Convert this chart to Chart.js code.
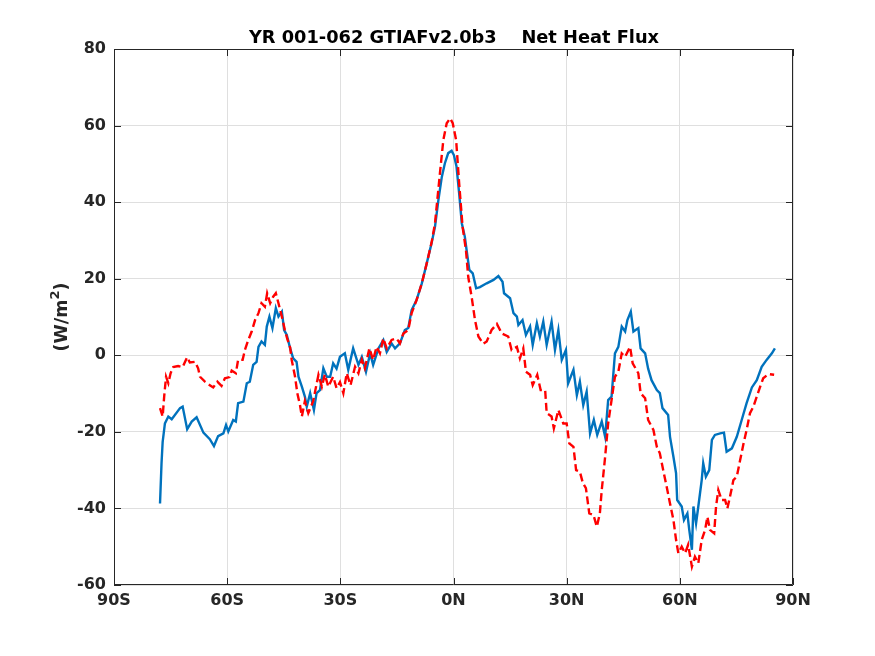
<!DOCTYPE html>
<html>
<head>
<meta charset="utf-8">
<script src="https://cdn.jsdelivr.net/npm/chart.js@4/dist/chart.umd.min.js"></script>
<style>
  body { margin: 0; background: #fff; }
  #wrap { width: 875px; height: 656px; }
</style>
</head>
<body>
<div id="wrap"><canvas id="fluxChart" width="875" height="656"></canvas></div>
<script>
const titleText = "YR 001-062 GTIAFv2.0b3    Net Heat Flux";

const xTickValues = [-90, -60, -30, 0, 30, 60, 90];
const xTickLabels = ["90S", "60S", "30S", "0N", "30N", "60N", "90N"];
const yTickValues = [-60, -40, -20, 0, 20, 40, 60, 80];

// solid blue curve
const blueLat = [
  -77.8, -77.4, -77.1, -76.5, -75.6, -74.7, -72.5, -71.8, -70.6, -69.4,
  -68.1, -66.3, -64.6, -63.5, -62.4, -61.0, -60.3, -59.7, -58.4, -57.7,
  -57.1, -55.7, -54.8, -54.0, -53.1, -52.2, -51.7, -50.9, -50.0, -49.5,
  -48.8, -48.0, -47.1, -46.4, -45.5, -44.9, -44.2, -43.3, -42.5, -41.6,
  -41.1, -40.2, -39.4, -38.9, -38.0, -37.0, -36.3, -35.4, -34.5, -33.6,
  -32.7, -31.9, -31.0, -30.1, -28.8, -27.9, -26.6, -25.2, -24.3, -23.2,
  -22.1, -21.3, -19.9, -18.6, -17.7, -16.4, -15.5, -14.2, -12.9, -12.0,
  -11.1, -9.8, -8.4, -7.1, -5.8, -4.9, -4.0, -3.1, -2.3, -1.4,
  -0.5, 0.1, 0.8, 1.5, 2.2, 3.0, 3.7, 4.2, 5.1, 6.0,
  7.0, 8.8, 10.6, 11.9, 13.0, 13.4, 15.0, 15.9, 16.8, 17.2,
  18.3, 19.2, 20.3, 21.0, 22.1, 22.9, 23.8, 24.7, 26.0, 26.9,
  27.8, 28.7, 29.8, 30.4, 31.8, 32.7, 33.5, 34.4, 35.3, 36.2,
  37.2, 38.1, 39.3, 40.2, 41.0, 41.9, 42.8, 43.7, 44.6, 45.5,
  46.1, 47.0, 47.7, 49.0, 49.6, 50.8, 51.6, 52.5, 53.9, 54.7,
  55.4, 56.9, 57.4, 58.3, 59.0, 59.3, 60.5, 61.1, 62.0, 62.5,
  63.2, 63.6, 64.3, 64.9, 65.8, 66.2, 66.9, 67.8, 68.5, 69.3,
  70.7, 71.7, 72.4, 73.8, 75.1, 76.4, 77.7, 79.1, 80.4, 81.7,
  83.0, 84.4, 85.2
];
const blueFlux = [
  -38.7, -28.2, -22.6, -17.8, -16.0, -16.7, -13.8, -13.4, -19.3, -17.3,
  -16.2, -20.2, -21.9, -23.7, -21.1, -20.4, -18.2, -19.9, -16.9, -17.3,
  -12.5, -12.1, -7.3, -6.9, -2.5, -1.7, 2.2, 3.6, 2.7, 7.5,
  10.1, 7.1, 12.3, 10.1, 11.4, 6.6, 5.3, 1.8, -0.8, -1.7,
  -5.6, -8.2, -10.8, -13.4, -9.9, -14.3, -9.9, -9.1, -3.4, -5.6,
  -5.6, -2.1, -3.5, -0.4, 0.5, -3.8, 1.8, -2.5, -0.4, -4.3,
  0.5, -2.5, 1.8, 4.0, 0.9, 3.1, 1.8, 3.1, 6.6, 7.1,
  11.8, 14.4, 18.8, 24.0, 29.3, 33.6, 40.6, 46.6, 50.1, 52.8,
  53.4, 52.3, 49.3, 42.3, 34.5, 31.0, 25.8, 22.3, 21.4, 17.5,
  17.8, 18.8, 19.7, 20.7, 19.2, 16.2, 14.9, 11.0, 10.1, 7.9,
  9.2, 5.3, 7.5, 2.7, 8.4, 4.9, 8.8, 2.7, 8.8, 1.4,
  6.6, -1.2, 1.4, -7.3, -3.8, -10.4, -6.9, -13.0, -9.5, -20.4,
  -16.9, -20.8, -17.3, -21.3, -11.7, -10.8, 0.5, 2.2, 7.5, 6.2,
  9.2, 11.4, 6.2, 7.1, 1.8, 0.5, -3.5, -6.5, -9.1, -9.9,
  -13.8, -15.6, -21.3, -26.5, -30.8, -37.8, -39.5, -43.0, -41.3, -45.6,
  -50.8, -39.5, -43.9, -39.5, -32.6, -28.2, -31.7, -30.0, -22.1, -20.8,
  -20.4, -20.2, -25.2, -24.3, -21.3, -16.9, -12.5, -8.4, -6.5, -3.0,
  -1.2, 0.5, 1.8
];

// dashed red curve
const redLat = [
  -77.8, -77.1, -76.7, -76.2, -75.6, -75.0, -74.3, -73.0, -71.8, -70.6,
  -69.9, -68.5, -67.7, -67.2, -65.9, -64.6, -63.7, -62.6, -61.5, -60.6,
  -59.4, -58.8, -57.7, -57.1, -55.9, -55.3, -54.4, -53.5, -52.6, -51.7,
  -50.9, -50.0, -49.4, -48.6, -47.8, -47.1, -46.4, -45.5, -44.7, -44.1,
  -43.3, -42.9, -42.0, -41.4, -40.7, -40.2, -39.4, -38.5, -37.2, -36.3,
  -35.8, -34.9, -34.1, -33.2, -31.9, -31.0, -30.1, -29.2, -28.3, -27.3,
  -26.1, -25.2, -24.3, -23.5, -22.3, -21.3, -20.4, -19.5, -18.6, -17.7,
  -16.4, -15.1, -14.2, -13.3, -12.0, -11.1, -9.8, -8.4, -7.1, -5.8,
  -4.9, -3.6, -2.7, -1.8, -0.9, -0.2, 0.7, 1.5, 2.4, 3.3,
  3.9, 4.8, 5.7, 6.6, 7.9, 8.8, 10.1, 11.5, 12.8, 14.5,
  15.4, 16.8, 17.6, 18.5, 19.2, 20.3, 21.0, 22.2, 23.1, 24.3,
  24.7, 26.0, 26.6, 27.8, 29.1, 30.0, 30.7, 31.8, 32.5, 33.5,
  34.3, 35.1, 36.0, 37.1, 38.0, 38.8, 39.3, 40.2, 41.0, 41.9,
  42.8, 43.7, 44.6, 45.5, 46.8, 47.5, 49.0, 49.6, 50.8, 51.6,
  53.0, 53.9, 54.7, 55.6, 56.5, 57.4, 58.3, 59.0, 59.6, 60.5,
  61.4, 62.2, 63.2, 64.0, 64.9, 65.8, 66.7, 67.3, 68.0, 69.1,
  69.6, 70.2, 71.1, 72.0, 72.6, 73.5, 74.2, 75.1, 76.0, 76.9,
  77.7, 78.6, 79.5, 80.4, 81.3, 82.1, 83.5, 85.0
];
const redFlux = [
  -13.8, -16.0, -10.8, -5.6, -7.3, -4.7, -3.1, -2.8, -3.1, -0.5,
  -1.9, -1.7, -3.4, -5.6, -6.9, -7.8, -8.4, -6.9, -8.0, -6.0,
  -5.7, -4.0, -4.7, -1.2, -1.2, 1.4, 4.0, 6.2, 9.2, 11.0,
  13.6, 12.7, 16.2, 13.6, 15.3, 16.2, 13.6, 10.1, 6.6, 4.4,
  2.0, -1.2, -5.6, -9.9, -13.0, -16.0, -12.0, -15.1, -12.0, -7.5,
  -5.1, -8.2, -5.0, -8.2, -5.6, -8.6, -7.0, -9.9, -4.7, -7.8,
  -3.0, -4.7, -1.2, -3.4, 1.8, -1.2, 2.2, 0.5, 4.4, 1.8,
  4.0, 4.4, 3.1, 5.7, 6.6, 11.0, 14.4, 18.8, 24.0, 29.5,
  34.5, 47.5, 56.2, 60.6, 61.9, 60.6, 56.2, 44.9, 33.6, 27.5,
  20.5, 15.3, 9.2, 4.9, 3.0, 3.6, 6.6, 8.2, 5.7, 4.9,
  1.4, 2.2, -0.8, 1.8, -4.3, -5.1, -7.8, -5.1, -9.1, -9.1,
  -15.1, -16.0, -19.1, -14.3, -17.8, -17.8, -23.0, -23.9, -30.0, -30.4,
  -33.4, -34.7, -41.3, -41.7, -44.8, -41.3, -35.2, -26.5, -17.8, -11.7,
  -5.6, -4.3, 0.5, -0.4, 2.2, -2.1, -4.7, -9.9, -11.2, -16.9,
  -19.5, -23.9, -25.6, -30.0, -34.3, -38.7, -43.0, -48.2, -51.7, -50.0,
  -51.7, -49.5, -55.2, -52.6, -54.3, -48.2, -45.6, -42.2, -45.6, -46.5,
  -39.5, -35.2, -37.8, -37.8, -40.0, -36.0, -32.6, -31.7, -27.3, -23.0,
  -19.5, -15.1, -13.4, -10.8, -8.2, -6.0, -4.9, -5.1
];

function toPoints(lat, vals) {
  return lat.map(function (x, i) { return { x: x, y: vals[i] }; });
}

const axisColor = "#262626";
const fontFamily = "'DejaVu Sans', sans-serif";

// title, y label, box and inward ticks like the original figure
const framePlugin = {
  id: "frame",
  afterDraw: function (chart) {
    let ctx = chart.ctx;
    let area = chart.chartArea;
    let xs = chart.scales.x;
    let ys = chart.scales.y;
    ctx.save();
    ctx.strokeStyle = axisColor;
    ctx.lineWidth = 1;
    ctx.beginPath();
    ctx.rect(area.left + 0.5, area.top + 0.5, area.right - area.left - 1, area.bottom - area.top - 1);
    ctx.stroke();

    let tl = 7;
    ctx.beginPath();
    xTickValues.forEach(function (v) {
      let px = Math.round(xs.getPixelForValue(v)) + 0.5;
      ctx.moveTo(px, area.bottom);
      ctx.lineTo(px, area.bottom - tl);
      ctx.moveTo(px, area.top);
      ctx.lineTo(px, area.top + tl);
    });
    yTickValues.forEach(function (v) {
      let py = Math.round(ys.getPixelForValue(v)) + 0.5;
      ctx.moveTo(area.left, py);
      ctx.lineTo(area.left + tl, py);
      ctx.moveTo(area.right, py);
      ctx.lineTo(area.right - tl, py);
    });
    ctx.stroke();

    ctx.fillStyle = "#000";
    ctx.font = "bold 17.8px " + fontFamily;
    ctx.textAlign = "center";
    ctx.textBaseline = "alphabetic";
    ctx.fillText(titleText, (area.left + area.right) / 2 + 0.5, 43);

    // y axis label with a raised 2
    ctx.translate(66.5, (area.top + area.bottom) / 2);
    ctx.rotate(-Math.PI / 2);
    ctx.fillStyle = axisColor;
    let a = "(W/m", b = "2", c = ")";
    ctx.font = "bold 17.5px " + fontFamily;
    let wa = ctx.measureText(a).width;
    let wc = ctx.measureText(c).width;
    ctx.font = "bold 13px " + fontFamily;
    let wb = ctx.measureText(b).width;
    let x0 = -(wa + wb + wc) / 2;
    ctx.textAlign = "left";
    ctx.font = "bold 17.5px " + fontFamily;
    ctx.fillText(a, x0, 0);
    ctx.font = "bold 13px " + fontFamily;
    ctx.fillText(b, x0 + wa, -8);
    ctx.font = "bold 17.5px " + fontFamily;
    ctx.fillText(c, x0 + wa + wb, 0);
    ctx.restore();
  }
};

let chart = new Chart(document.getElementById("fluxChart"), {
  type: "line",
  data: {
    datasets: [{
      label: "blue",
      data: toPoints(blueLat, blueFlux),
      borderColor: "#0072BD",
      borderWidth: 2.4,
      pointRadius: 0,
      tension: 0,
      order: 2
    }, {
      label: "red",
      data: toPoints(redLat, redFlux),
      borderColor: "#FF0000",
      borderWidth: 2.4,
      borderDash: [8, 4],
      pointRadius: 0,
      tension: 0,
      order: 1
    }]
  },
  options: {
    responsive: false,
    animation: false,
    layout: { padding: { left: 0, right: 82, top: 49, bottom: 0 } },
    plugins: {
      legend: { display: false },
      title: { display: false },
      tooltip: { enabled: false }
    },
    scales: {
      x: {
        type: "linear",
        min: -90,
        max: 90,
        afterBuildTicks: function (scale) {
          scale.ticks = xTickValues.map(function (v) { return { value: v }; });
        },
        afterFit: function (scale) { scale.height = 71; },
        border: { display: false },
        grid: { color: "#dfdfdf", drawTicks: false, lineWidth: 1 },
        ticks: {
          padding: 6,
          maxRotation: 0,
          color: axisColor,
          font: { family: fontFamily, size: 16, weight: "bold" },
          callback: function (value) {
            let i = xTickValues.indexOf(value);
            return i >= 0 ? xTickLabels[i] : "";
          }
        }
      },
      y: {
        min: -60,
        max: 80,
        afterBuildTicks: function (scale) {
          scale.ticks = yTickValues.map(function (v) { return { value: v }; });
        },
        afterFit: function (scale) { scale.width = 114; },
        border: { display: false },
        grid: { color: "#dfdfdf", drawTicks: false, lineWidth: 1 },
        ticks: {
          padding: 8,
          color: axisColor,
          font: { family: fontFamily, size: 16, weight: "bold" }
        }
      }
    }
  },
  plugins: [framePlugin]
});
</script>
</body>
</html>
